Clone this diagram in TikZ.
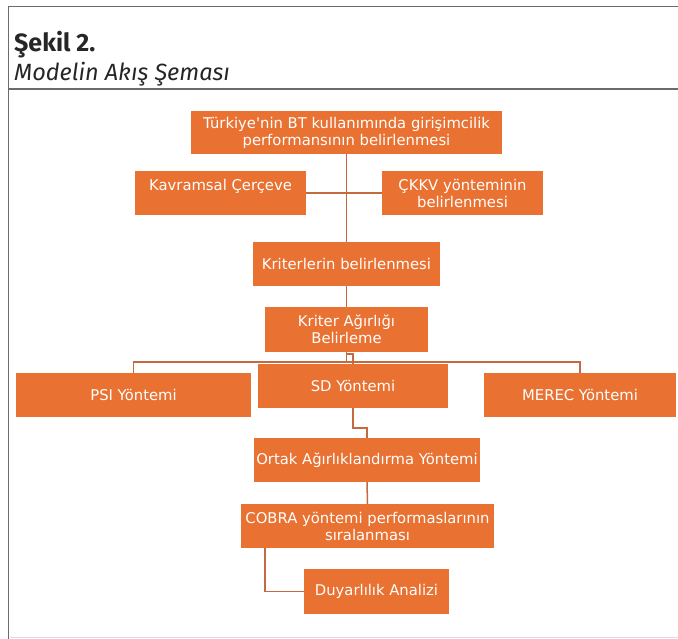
\documentclass[tikz,border=0pt]{standalone}
\usepackage{fontspec}
\usepackage{xcolor}
\usepackage{tikz}
\usetikzlibrary{positioning}
\newfontfamily\kutufont{DejaVu Sans}
\newfontfamily\baslikfont{Fira Sans}
\definecolor{akisturuncu}{HTML}{E97132}
\definecolor{akiscizgi}{HTML}{C46A3E}
\definecolor{cerceve}{HTML}{6B6B6B}
\definecolor{altcizgi}{HTML}{DADADA}
\tikzset{
  akis/.style={
    fill=akisturuncu,
    text=white,
    align=center,
    inner sep=2pt,
    font=\kutufont\fontsize{14.8}{17}\selectfont
  },
  baglanti/.style={
    draw=akiscizgi,
    line width=1.5pt
  },
  baslikyazi/.style={
    anchor=base west,
    text=black!85,
    inner sep=0pt
  }
}

\begin{document}
\begin{tikzpicture}[x=1pt,y=-1pt]
  \useasboundingbox (0,0) rectangle (678,639);
  \draw[cerceve, line width=1.6pt] (678,6.5) -- (8.5,6.5) -- (8.5,639);
  \draw[cerceve, line width=1.6pt] (8.5,89) -- (678,89);
  \draw[altcizgi, line width=1.5pt] (10,637.5) -- (678,637.5);

  \node[baslikyazi, font=\baslikfont\bfseries\fontsize{25}{28}\selectfont] (baslik) at (14,52) {Şekil 2.};
  \node[baslikyazi, font=\baslikfont\itshape\fontsize{23.5}{28}\selectfont] (altbaslik) at (14,81) {Modelin Akış Şeması};

  \node[akis, minimum width=311pt, minimum height=43pt] (bt) at (346.5,132.5) {Türkiye'nin BT kullanımında girişimcilik\\performansının belirlenmesi};
  \node[akis, minimum width=171pt, minimum height=44pt] (kavramsal) at (220.5,193) {Kavramsal Çerçeve\\\mbox{}};
  \node[akis, minimum width=161pt, minimum height=44pt] (ckkv) at (462.5,193) {ÇKKV yönteminin\\belirlenmesi};
  \node[akis, minimum width=187pt, minimum height=44pt] (kriterler) at (346.5,264) {Kriterlerin belirlenmesi};
  \node[akis, minimum width=163pt, minimum height=45pt] (kagirlik) at (346.5,329.5) {Kriter Ağırlığı\\Belirleme};
  \node[akis, minimum width=235pt, minimum height=44pt] (psi) at (133.5,395) {PSI Yöntemi};
  \node[akis, minimum width=190pt, minimum height=44pt] (sd) at (353,386) {SD Yöntemi};
  \node[akis, minimum width=192pt, minimum height=44pt] (merec) at (580,395) {MEREC Yöntemi};
  \node[akis, minimum width=224pt, minimum height=44pt] (ortak) at (367,460) {Ortak Ağırlıklandırma Yöntemi};
  \node[akis, minimum width=253pt, minimum height=44pt] (cobra) at (367.5,526) {COBRA yöntemi performaslarının\\sıralanması};
  \node[akis, minimum width=145pt, minimum height=45pt] (duyar) at (376.5,591.5) {Duyarlılık Analizi};

  \draw[baglanti] (bt.south) -- (kriterler.north);
  \draw[baglanti] (kavramsal.east) -- (ckkv.west);
  \draw[baglanti] (kriterler.south) -- (kagirlik.north);
  \draw[baglanti] (kagirlik.south) -- ++(0,10) coordinate (bara);
  \draw[baglanti] (psi.north) -- (psi.north |- bara) -- (merec.north |- bara) -- (merec.north);
  \draw[baglanti] (sd.north) -- ++(0,-10) -| (kagirlik.south);
  \draw[baglanti] (sd.south) -- ++(0,20) -| (ortak.north);
  \draw[baglanti] (ortak.south) -- (cobra.north);
  \draw[baglanti] ([xshift=24pt]cobra.south west) |- (duyar.west);
\end{tikzpicture}
\end{document}
